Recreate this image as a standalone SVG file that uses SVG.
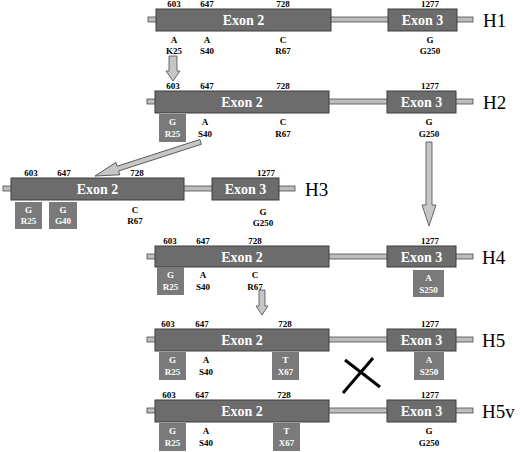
<svg xmlns="http://www.w3.org/2000/svg" width="520" height="452" viewBox="0 0 520 452">
<style>
text{font-family:"Liberation Serif","Times New Roman",serif}
.intron{fill:#bdbdbd;stroke:#4a4a4a;stroke-width:0.8}
.exon{fill:#6c6c6c;stroke:#3c3c3c;stroke-width:1}
.mut{fill:#7a7a7a;stroke:none}
.ex{fill:#fff;font-size:14px;font-weight:bold;text-anchor:middle}
.num{fill:#000;font-size:9px;font-weight:bold;text-anchor:middle}
.lab{fill:#000;font-size:9px;font-weight:bold;text-anchor:middle}
.wlab{fill:#fff;font-size:9px;font-weight:bold;text-anchor:middle}
.h{fill:#000;font-size:19px}
.arrow{fill:#c6c6c6;stroke:#4a4a4a;stroke-width:0.8}
.cross{stroke:#000;stroke-width:3;fill:none}
</style>
<rect width="520" height="452" fill="#fff"/>

<g id="H1">
<rect class="intron" x="148" y="17" width="325" height="5"/>
<rect class="exon" x="156" y="9" width="175" height="22"/>
<rect class="exon" x="388" y="9" width="69" height="22"/>
<text class="ex" x="243.5" y="25">Exon 2</text>
<text class="ex" x="422.5" y="25">Exon 3</text>
<text class="num" x="174" y="7">603</text>
<text class="num" x="207" y="7">647</text>
<text class="num" x="283" y="7">728</text>
<text class="num" x="430" y="7">1277</text>
<text class="lab" x="174" y="43">A</text><text class="lab" x="174" y="54">K25</text>
<text class="lab" x="207" y="43">A</text><text class="lab" x="207" y="54">S40</text>
<text class="lab" x="283" y="43">C</text><text class="lab" x="283" y="54">R67</text>
<text class="lab" x="430" y="43">G</text><text class="lab" x="430" y="54">G250</text>
<text class="h" x="483" y="27">H1</text>
</g>

<g id="H2">
<rect class="intron" x="147" y="99" width="326" height="5"/>
<rect class="exon" x="155" y="91" width="174" height="22"/>
<rect class="exon" x="387" y="91" width="69" height="22"/>
<text class="ex" x="242" y="107">Exon 2</text>
<text class="ex" x="421.5" y="107">Exon 3</text>
<text class="num" x="173" y="89">603</text>
<text class="num" x="207" y="89">647</text>
<text class="num" x="283" y="89">728</text>
<text class="num" x="430" y="89">1277</text>
<rect class="mut" x="159" y="114" width="27" height="28"/>
<text class="wlab" x="172.5" y="125">G</text><text class="wlab" x="172.5" y="137">R25</text>
<text class="lab" x="205" y="125">A</text><text class="lab" x="205" y="137">S40</text>
<text class="lab" x="283" y="125">C</text><text class="lab" x="283" y="137">R67</text>
<text class="lab" x="429" y="125">G</text><text class="lab" x="429" y="137">G250</text>
<text class="h" x="483" y="109">H2</text>
</g>

<g id="H3">
<rect class="intron" x="3" y="186" width="292" height="5"/>
<rect class="exon" x="11" y="178" width="173" height="22"/>
<rect class="exon" x="212" y="178" width="67" height="22"/>
<text class="ex" x="97.5" y="194">Exon 2</text>
<text class="ex" x="245.5" y="194">Exon 3</text>
<text class="num" x="31" y="176">603</text>
<text class="num" x="64" y="176">647</text>
<text class="num" x="137" y="176">728</text>
<text class="num" x="266" y="176">1277</text>
<rect class="mut" x="15" y="202" width="27" height="27"/>
<text class="wlab" x="28.5" y="213">G</text><text class="wlab" x="28.5" y="224">R25</text>
<rect class="mut" x="49" y="202" width="28" height="27"/>
<text class="wlab" x="63" y="213">G</text><text class="wlab" x="63" y="224">G40</text>
<text class="lab" x="135" y="213">C</text><text class="lab" x="135" y="224">R67</text>
<text class="lab" x="263" y="215">G</text><text class="lab" x="263" y="226">G250</text>
<text class="h" x="305" y="196">H3</text>
</g>

<g id="H4">
<rect class="intron" x="147" y="254" width="326" height="5"/>
<rect class="exon" x="155" y="246" width="174" height="21"/>
<rect class="exon" x="387" y="246" width="69" height="21"/>
<text class="ex" x="242" y="262">Exon 2</text>
<text class="ex" x="421.5" y="262">Exon 3</text>
<text class="num" x="170" y="244">603</text>
<text class="num" x="203" y="244">647</text>
<text class="num" x="255" y="244">728</text>
<text class="num" x="430" y="244">1277</text>
<rect class="mut" x="157" y="267" width="27" height="28"/>
<text class="wlab" x="170.5" y="278">G</text><text class="wlab" x="170.5" y="290">R25</text>
<text class="lab" x="203" y="278">A</text><text class="lab" x="203" y="290">S40</text>
<text class="lab" x="255" y="278">C</text><text class="lab" x="255" y="290">R67</text>
<rect class="mut" x="413" y="270" width="31" height="27"/>
<text class="wlab" x="428.5" y="281">A</text><text class="wlab" x="428.5" y="293">S250</text>
<text class="h" x="482" y="264">H4</text>
</g>

<g id="H5">
<rect class="intron" x="147" y="337" width="326" height="5"/>
<rect class="exon" x="155" y="329" width="174" height="22"/>
<rect class="exon" x="387" y="329" width="69" height="22"/>
<text class="ex" x="242" y="345">Exon 2</text>
<text class="ex" x="421.5" y="345">Exon 3</text>
<text class="num" x="168" y="327">603</text>
<text class="num" x="202" y="327">647</text>
<text class="num" x="285" y="327">728</text>
<text class="num" x="430" y="327">1277</text>
<rect class="mut" x="159" y="352" width="27" height="28"/>
<text class="wlab" x="172.5" y="363">G</text><text class="wlab" x="172.5" y="375">R25</text>
<text class="lab" x="206" y="363">A</text><text class="lab" x="206" y="375">S40</text>
<rect class="mut" x="272" y="352" width="27" height="28"/>
<text class="wlab" x="285.5" y="363">T</text><text class="wlab" x="285.5" y="375">X67</text>
<rect class="mut" x="414" y="352" width="30" height="28"/>
<text class="wlab" x="429" y="363">A</text><text class="wlab" x="429" y="375">S250</text>
<text class="h" x="482" y="347">H5</text>
</g>

<g id="H5v">
<rect class="intron" x="147" y="408" width="326" height="5"/>
<rect class="exon" x="155" y="400" width="174" height="22"/>
<rect class="exon" x="387" y="400" width="69" height="22"/>
<text class="ex" x="242" y="416">Exon 2</text>
<text class="ex" x="421.5" y="416">Exon 3</text>
<text class="num" x="169" y="398">603</text>
<text class="num" x="202" y="398">647</text>
<text class="num" x="284" y="398">728</text>
<text class="num" x="430" y="398">1277</text>
<rect class="mut" x="159" y="423" width="27" height="28"/>
<text class="wlab" x="172.5" y="434">G</text><text class="wlab" x="172.5" y="446">R25</text>
<text class="lab" x="206" y="434">A</text><text class="lab" x="206" y="446">S40</text>
<rect class="mut" x="273" y="423" width="27" height="28"/>
<text class="wlab" x="286.5" y="434">T</text><text class="wlab" x="286.5" y="446">X67</text>
<text class="lab" x="429" y="434">G</text><text class="lab" x="429" y="446">G250</text>
<text class="h" x="482" y="418">H5v</text>
</g>

<g id="connectors">
<polygon class="arrow" points="169,56 177,56 177,71 180,71 173,81 166,71 169,71"/>
<polygon class="arrow" transform="translate(95,176) rotate(-17.9)" points="0,0 24,-6.5 24,-2.5 111,-2.5 111,2.5 24,2.5 24,6.5"/>
<polygon class="arrow" points="426,142 432,142 432,205 436,205 429,226 422,205 426,205"/>
<polygon class="arrow" points="259,290 265,290 265,306 268,306 262,315 256,306 259,306"/>
<line class="cross" x1="343" y1="393" x2="373" y2="358"/>
<line class="cross" x1="345" y1="360" x2="380" y2="387"/>
</g>
</svg>
